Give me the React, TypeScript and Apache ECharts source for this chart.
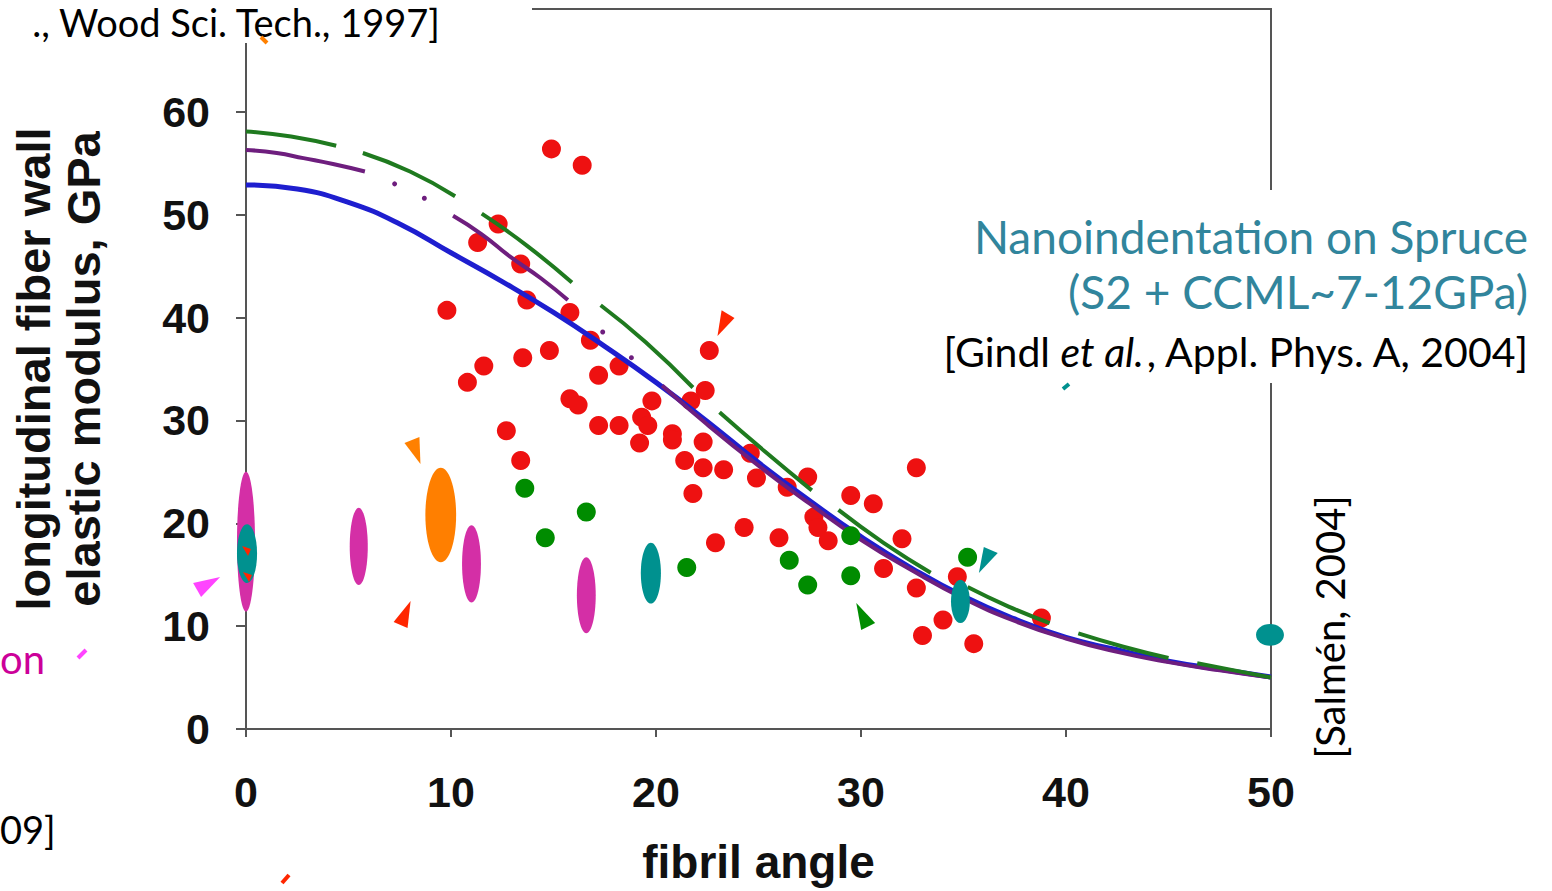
import React, { useEffect, useRef } from "react";
import * as echarts from "echarts";

// ---------- data ----------
const xTicks = [0, 10, 20, 30, 40, 50];
const yTicks = [0, 10, 20, 30, 40, 50, 60];

// red points (fibril angle, modulus GPa)
const redPoints: number[][] = [
  [14.9, 56.4], [16.4, 54.8], [9.8, 40.7], [11.3, 47.3], [12.3, 49.1], [13.4, 45.2],
  [13.7, 41.7], [13.5, 36.1], [14.8, 36.8], [10.8, 33.7], [11.6, 35.3], [12.7, 29.0],
  [13.4, 26.1], [15.8, 40.5], [15.8, 32.1], [16.2, 31.5], [16.8, 37.8], [17.2, 34.4],
  [17.2, 29.5], [18.2, 29.5], [18.2, 35.3], [19.3, 30.3], [19.8, 31.9], [19.6, 29.5],
  [19.2, 27.8], [20.8, 28.7], [20.8, 28.1], [21.4, 26.1], [21.8, 22.9], [21.7, 31.9],
  [22.4, 32.9], [22.6, 36.8], [22.3, 25.4], [22.3, 27.9], [23.3, 25.2], [22.9, 18.1],
  [24.3, 19.6], [24.6, 26.8], [24.9, 24.4], [26.0, 18.6], [26.4, 23.5], [27.4, 24.5],
  [27.7, 20.6], [27.9, 19.6], [28.4, 18.3], [29.5, 22.7], [30.6, 21.9], [31.1, 15.6],
  [32.0, 18.5], [32.7, 25.4], [32.7, 13.7], [33.0, 9.1], [34.0, 10.6], [34.7, 14.8],
  [35.5, 8.3], [38.8, 10.8],
];

// green points
const greenPoints: number[][] = [
  [13.6, 23.4], [14.6, 18.6], [16.6, 21.1], [21.5, 15.7], [26.5, 16.4],
  [27.4, 14.0], [29.5, 18.8], [29.5, 14.9], [35.2, 16.7],
];

// model curves
const blueCurve: number[][] = [
  [0, 52.9], [2.5, 52.5], [5, 51.2], [7.5, 49.1], [10, 46.3], [12.5, 43.5], [15, 40.5],
  [17.5, 37.2], [20, 33.7], [22.5, 29.9], [25, 25.9], [27.5, 22.2], [30, 18.7],
  [32.5, 15.6], [35, 12.9], [37.5, 10.7], [40, 8.9], [42.5, 7.7], [45, 6.6], [47.5, 5.8], [50, 5.05],
];
const purpleSegments: number[][][] = [
  [[0, 56.3], [1.5, 56.0], [2.8, 55.5], [4.3, 54.9], [5.8, 54.2]],
  [[10.1, 49.9], [11.5, 48.1], [12.9, 45.9], [14.4, 43.8], [15.7, 41.7]],
  [[20.3, 33.4], [22.5, 29.6], [25, 25.6], [27.5, 21.9], [30, 18.4], [32.5, 15.4], [35, 12.7],
   [37.5, 10.5], [40, 8.8], [42.5, 7.5], [45, 6.5], [47.5, 5.7], [50, 5.0]],
];
const purpleDots: number[][] = [[7.25, 53.0], [8.7, 51.6], [17.4, 38.6], [18.8, 36.1]];
const greenSegments: number[][][] = [
  [[0, 58.1], [2.2, 57.6], [4.4, 56.7]],
  [[5.7, 56.0], [8, 54.2], [10.2, 51.8]],
  [[11.5, 50.1], [13.7, 47.0], [15.9, 43.4]],
  [[17.3, 41.2], [19.5, 37.6], [21.8, 33.2]],
  [[23.1, 30.8], [25.3, 27.0], [27.6, 23.2]],
  [[28.9, 21.3], [31.1, 18.1], [33.4, 15.2]],
  [[35.2, 13.8], [37.2, 11.9], [39.2, 10.3]],
  [[40.6, 9.3], [42.8, 8.0], [45.0, 6.9]],
  [[46.4, 6.4], [48.2, 5.7], [50, 5.0]],
];

// ellipses: [x, yLow, yHigh, halfWidth(x units)]
const magentaEllipses: number[][] = [
  [0, 11.4, 25.0, 0.44], [5.5, 14.0, 21.5, 0.44], [11.0, 12.3, 19.8, 0.46], [16.6, 9.3, 16.7, 0.46],
];
const tealEllipses: number[][] = [
  [0.05, 14.2, 19.9, 0.49], [19.75, 12.2, 18.1, 0.49], [34.85, 10.3, 14.5, 0.46], [49.95, 8.1, 10.2, 0.68],
];
const orangeEllipses: number[][] = [[9.5, 16.2, 25.4, 0.75]];

// arrowheads: triangle vertices [x1,y1,x2,y2,x3,y3]
const arrowsOrange: number[][] = [[7.73, 27.8, 8.46, 28.38, 8.51, 25.76]];
const arrowsRed: number[][] = [
  [7.2, 10.4, 8.03, 12.44, 7.88, 9.82],
  [23.0, 38.2, 23.2, 40.7, 23.83, 39.96],
  [-0.19, 17.78, 0.24, 17.49, 0.1, 16.81],
  [-0.15, 15.26, 0.29, 14.97, 0.15, 14.29],
];
const arrowsPink: number[][] = [[-2.58, 14.19, -1.26, 14.77, -2.19, 12.83]];
const arrowsGreen: number[][] = [[29.77, 12.25, 30.01, 9.62, 30.69, 10.3]];
const arrowsTeal: number[][] = [[35.75, 15.16, 35.99, 17.69, 36.67, 17.1]];

// ---------- styles ----------
const AXIS_FONT = "'Liberation Sans', Arial, Helvetica, sans-serif";
const TEXT_FONT = "Lato, 'Open Sans', sans-serif";

function ellipseSeries(data: number[][], color: string): any {
  return {
    type: "custom",
    clip: false,
    data,
    encode: { x: 0, y: [1, 2] },
    renderItem: (_p: any, api: any) => {
      const x = api.value(0), lo = api.value(1), hi = api.value(2), hw = api.value(3);
      const mid = (lo + hi) / 2;
      const c = api.coord([x, mid]);
      const t = api.coord([x, hi]);
      const r = api.coord([x + hw, mid]);
      return {
        type: "ellipse",
        shape: { cx: c[0], cy: c[1], rx: r[0] - c[0], ry: c[1] - t[1] },
        style: { fill: color },
      };
    },
    z: 5,
  };
}

function arrowSeries(data: number[][], color: string): any {
  return {
    type: "custom",
    clip: false,
    data,
    encode: { x: [0, 2, 4], y: [1, 3, 5] },
    renderItem: (_p: any, api: any) => {
      const pts = [0, 2, 4].map((i) => api.coord([api.value(i), api.value(i + 1)]));
      return { type: "polygon", shape: { points: pts }, style: { fill: color } };
    },
    z: 6,
  };
}

export default function App() {
  const ref = useRef<HTMLDivElement>(null);
  useEffect(() => {
    if (!ref.current) return;
    const chart = echarts.init(ref.current, undefined, { renderer: "svg" });
    const lineBase = (data: number[][], color: string, width: number, z: number) => ({
      type: "line",
      data,
      showSymbol: false,
      symbol: "none",
      smooth: 0.5,
      lineStyle: { color, width },
      z,
      silent: true,
    });
    const option: any = {
      animation: false,
      grid: {
        left: 243, right: 281, top: 9, bottom: 162,
        show: true, borderColor: "#555", borderWidth: 2, backgroundColor: "transparent",
      },
      xAxis: {
        type: "value", min: xTicks[0], max: xTicks[xTicks.length - 1], interval: 10,
        axisLine: { show: true, lineStyle: { color: "#555", width: 2 } },
        axisTick: { show: true, inside: false, length: 8, lineStyle: { color: "#555", width: 2 } },
        splitLine: { show: false },
        axisLabel: { color: "#111", fontSize: 43, fontWeight: "bold", fontFamily: AXIS_FONT, margin: 41 },
        name: "fibril angle", nameLocation: "middle", nameGap: 110,
        nameTextStyle: { color: "#111", fontSize: 46, fontWeight: "bold", fontFamily: AXIS_FONT },
      },
      yAxis: {
        type: "value", min: 0, max: 70, interval: 10,
        axisLine: { show: true, lineStyle: { color: "#555", width: 2 } },
        axisTick: { show: true, inside: false, length: 10, lineStyle: { color: "#555", width: 2 } },
        splitLine: { show: false },
        axisLabel: {
          color: "#111", fontSize: 43, fontWeight: "bold", fontFamily: AXIS_FONT, margin: 36,
          formatter: (v: number) => (yTicks.indexOf(v) >= 0 ? String(v) : ""),
        },
        name: "longitudinal fiber wall\nelastic modulus, GPa", nameLocation: "middle", nameGap: 138,
        nameTextStyle: { color: "#111", fontSize: 47, fontWeight: "bold", fontFamily: AXIS_FONT, lineHeight: 50 },
      },
      series: [
        { type: "scatter", data: redPoints, symbolSize: 19, itemStyle: { color: "#EE1111", opacity: 1 }, z: 2, clip: false },
        lineBase(blueCurve, "#1E1ECF", 5, 3),
        ...purpleSegments.map((s) => lineBase(s, "#6E1E7E", 4, 3)),
        { type: "scatter", data: purpleDots, symbolSize: 5, itemStyle: { color: "#6E1E7E", opacity: 1 }, z: 3 },
        ...greenSegments.map((s) => lineBase(s, "#1F7A1F", 4, 4)),
        { type: "scatter", data: greenPoints, symbolSize: 19, itemStyle: { color: "#008C00", opacity: 1 }, z: 5, clip: false },
        ellipseSeries(magentaEllipses, "#D42FA6"),
        ellipseSeries(tealEllipses, "#00918F"),
        ellipseSeries(orangeEllipses, "#FF7F00"),
        arrowSeries(arrowsOrange, "#FF8000"),
        arrowSeries(arrowsRed, "#FF2600"),
        arrowSeries(arrowsPink, "#FF44FF"),
        arrowSeries(arrowsGreen, "#008C00"),
        arrowSeries(arrowsTeal, "#00918F"),
      ],
      graphic: [
        { type: "rect", z: 100, shape: { x: 0, y: 0, width: 532, height: 43 }, style: { fill: "#fff" } },
        { type: "rect", z: 100, shape: { x: 1258, y: 190, width: 26, height: 193 }, style: { fill: "#fff" } },
        {
          type: "text", z: 101, x: 440, y: 22,
          style: {
            text: "., Wood Sci. Tech., 1997]", fill: "#000", fontSize: 38, fontFamily: TEXT_FONT,
            align: "right", verticalAlign: "middle",
          },
        },
        {
          type: "text", z: 101, x: 0, y: 659,
          style: { text: "on", fill: "#CC0099", fontSize: 40, fontFamily: TEXT_FONT, align: "left", verticalAlign: "middle" },
        },
        {
          type: "text", z: 101, x: 0, y: 829,
          style: { text: "09]", fill: "#000", fontSize: 38, fontFamily: TEXT_FONT, align: "left", verticalAlign: "middle" },
        },
        {
          type: "text", z: 101, x: 1528, y: 236,
          style: { text: "Nanoindentation on Spruce", fill: "#31859C", fontSize: 46, fontFamily: TEXT_FONT, align: "right", verticalAlign: "middle" },
        },
        {
          type: "text", z: 101, x: 1528, y: 291,
          style: { text: "(S2 + CCML~7-12GPa)", fill: "#31859C", fontSize: 46, fontFamily: TEXT_FONT, align: "right", verticalAlign: "middle" },
        },
        {
          type: "text", z: 101, x: 1528, y: 351,
          style: {
            text: "[Gindl {i|et al.}, Appl. Phys. A, 2004]", fill: "#000", fontSize: 41, fontFamily: TEXT_FONT,
            align: "right", verticalAlign: "middle",
            rich: { i: { fontStyle: "italic", fontSize: 41, fontFamily: TEXT_FONT, fill: "#000" } },
          },
        },
        {
          type: "text", z: 101, x: 1330, y: 627, rotation: Math.PI / 2,
          style: { text: "[Salmén, 2004]", fill: "#000", fontSize: 40, fontFamily: TEXT_FONT, align: "center", verticalAlign: "middle" },
        },
        { type: "line", z: 101, shape: { x1: 261, y1: 37, x2: 267, y2: 43 }, style: { stroke: "#FF8000", lineWidth: 4 } },
        { type: "line", z: 101, shape: { x1: 282, y1: 883, x2: 289, y2: 875 }, style: { stroke: "#FF2600", lineWidth: 4 } },
        { type: "line", z: 101, shape: { x1: 78, y1: 658, x2: 86, y2: 650 }, style: { stroke: "#FF44FF", lineWidth: 4 } },
        { type: "line", z: 101, shape: { x1: 1063, y1: 389, x2: 1069, y2: 384 }, style: { stroke: "#00918F", lineWidth: 4 } },
      ],
    };
    chart.setOption(option);
    return () => chart.dispose();
  }, []);
  return (
    <div
      ref={ref}
      style={{ position: "fixed", left: 0, top: 0, width: 1552, height: 891, background: "#fff" }}
    />
  );
}
